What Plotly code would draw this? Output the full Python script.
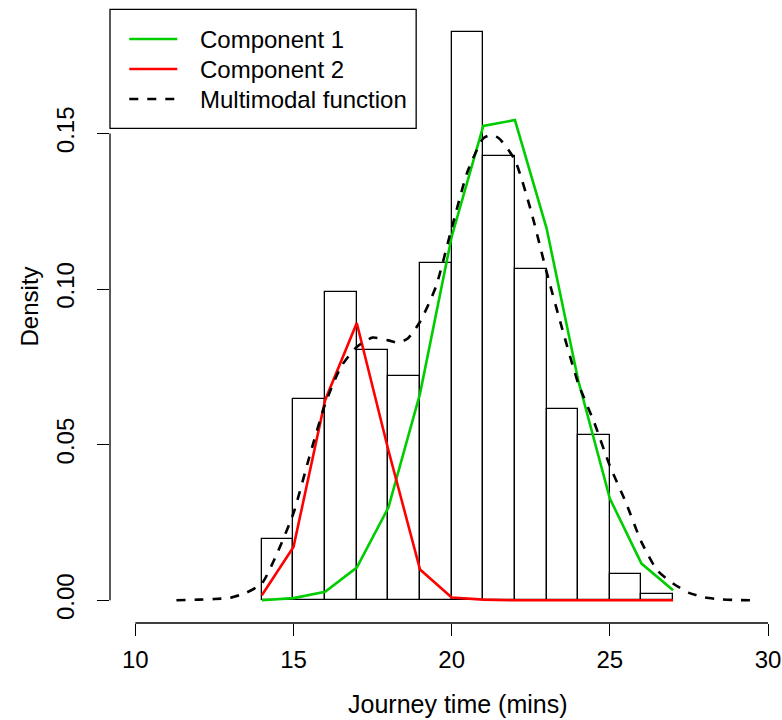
import plotly.graph_objects as go

# ---------------- data ----------------
bin_left = [14, 15, 16, 17, 18, 19, 20, 21, 22, 23, 24, 25, 26]
bin_density = [0.0198, 0.0646, 0.0990, 0.0804, 0.0720, 0.1084, 0.1827,
               0.1428, 0.1064, 0.0616, 0.0531, 0.0083, 0.0020]

comp_x = [14, 15, 16, 17, 18, 19, 20, 21, 22, 23, 24, 25, 26, 27]
comp1_y = [0.0000, 0.0007, 0.0027, 0.0105, 0.0298, 0.0664, 0.1168,
           0.1524, 0.1543, 0.1195, 0.0707, 0.0327, 0.0118, 0.0032]
comp2_y = [0.0016, 0.0171, 0.0643, 0.0891, 0.0482, 0.0099, 0.0009,
           0.0002, 0.0000, 0.0000, 0.0000, 0.0000, 0.0000, 0.0000]

mix_x = [11.3, 12.0, 12.5, 13.0, 13.5, 14.0, 14.5, 15.0, 15.5, 16.0, 16.5,
         17.0, 17.5, 18.0, 18.3, 18.6, 19.0, 19.5, 20.0, 20.5, 21.0, 21.25,
         21.5, 22.0, 22.5, 23.0, 23.5, 24.0, 24.5, 25.0, 25.5, 26.0, 26.5,
         27.0, 27.5, 28.0, 28.5, 29.0, 29.5]
mix_y = [0.0000, 0.0002, 0.0004, 0.0008, 0.0024, 0.0054, 0.0155, 0.0280,
         0.0460, 0.0630, 0.0750, 0.0814, 0.0844, 0.0835, 0.0828, 0.0840,
         0.0895, 0.1007, 0.1195, 0.1377, 0.1484, 0.1495, 0.1484, 0.1414,
         0.1254, 0.1055, 0.0870, 0.0697, 0.0573, 0.0432, 0.0316, 0.0187,
         0.0096, 0.0054, 0.0024, 0.0009, 0.0003, 0.0001, 0.0000]

x_ticks = [10, 15, 20, 25, 30]
y_ticks = [0.00, 0.05, 0.10, 0.15]
y_tick_text = ["0.00", "0.05", "0.10", "0.15"]
legend_labels = ["Component 1", "Component 2", "Multimodal function"]

# ---------------- style ----------------
W, H = 782, 720
ML, MT, MB = 109.7, 9.0, 97.3
PX_PER_X = 31.65
PX_PER_Y = 3111.0
X0 = 9.2
Y0 = -22.7 / PX_PER_Y
plot_w = W - ML
plot_h = H - MT - MB
x_range = [X0, X0 + plot_w / PX_PER_X]
y_range = [Y0, Y0 + plot_h / PX_PER_Y]

GREEN = "#00CD00"
RED = "#FF0000"
FONT = "Liberation Sans"
FS = 24


def px_to_paper_x(px):
    return (px - ML) / plot_w


def py_to_paper_y(py):
    return (H - MB - py) / plot_h


fig = go.Figure()

fig.add_trace(go.Bar(
    x=[b + 0.5 for b in bin_left], y=bin_density, width=1,
    marker=dict(color="white", line=dict(color="black", width=1.3)),
    showlegend=False, hoverinfo="skip"))

fig.add_trace(go.Scatter(x=comp_x, y=comp1_y, mode="lines",
                         line=dict(color=GREEN, width=2.6), showlegend=False))
fig.add_trace(go.Scatter(x=comp_x, y=comp2_y, mode="lines",
                         line=dict(color=RED, width=2.6), showlegend=False))
fig.add_trace(go.Scatter(x=mix_x, y=mix_y, mode="lines",
                         line=dict(color="black", width=2.6, dash="9px,9px",
                                   shape="spline", smoothing=0.6),
                         showlegend=False))

shapes = []
# R-style detached axes
shapes.append(dict(type="line", xref="x", yref="paper", x0=x_ticks[0], x1=x_ticks[-1],
                   y0=0, y1=0, line=dict(color="black", width=1.3)))
shapes.append(dict(type="line", xref="paper", yref="y", x0=0, x1=0,
                   y0=y_ticks[0], y1=y_ticks[-1], line=dict(color="black", width=1.3)))

# legend box
shapes.append(dict(type="rect", xref="paper", yref="paper",
                   x0=px_to_paper_x(109.7), x1=px_to_paper_x(416),
                   y0=py_to_paper_y(128.3), y1=py_to_paper_y(9.3),
                   line=dict(color="black", width=1.3), fillcolor="white", layer="above"))
leg_y = [39.0, 69.0, 99.0]
leg_col = [GREEN, RED, "black"]
leg_dash = ["solid", "solid", "9px,9px"]
annotations = []
for lab, yy, col, dsh in zip(legend_labels, leg_y, leg_col, leg_dash):
    shapes.append(dict(type="line", xref="paper", yref="paper",
                       x0=px_to_paper_x(129), x1=px_to_paper_x(177),
                       y0=py_to_paper_y(yy), y1=py_to_paper_y(yy),
                       line=dict(color=col, width=2.6, dash=dsh), layer="above"))
    annotations.append(dict(xref="paper", yref="paper", x=px_to_paper_x(198),
                            y=py_to_paper_y(yy), text=lab, showarrow=False,
                            xanchor="left", yanchor="middle",
                            font=dict(family=FONT, size=FS, color="black")))

annotations.append(dict(xref="paper", yref="paper", x=px_to_paper_x(458),
                        y=py_to_paper_y(704), text="Journey time (mins)", showarrow=False,
                        xanchor="center", yanchor="middle",
                        font=dict(family=FONT, size=FS + 1, color="black")))
annotations.append(dict(xref="paper", yref="paper", x=px_to_paper_x(29),
                        y=py_to_paper_y(306), text="Density", showarrow=False,
                        textangle=-90, xanchor="center", yanchor="middle",
                        font=dict(family=FONT, size=FS, color="black")))

fig.update_layout(
    width=W, height=H,
    margin=dict(l=ML, r=0, t=MT, b=MB, pad=0),
    paper_bgcolor="white", plot_bgcolor="white",
    bargap=0, shapes=shapes, annotations=annotations,
    font=dict(family=FONT, size=FS, color="black"),
    xaxis=dict(range=x_range, tickvals=x_ticks, ticktext=[str(v) for v in x_ticks],
               ticks="outside", ticklen=12, tickwidth=1.3, tickcolor="black",
               showgrid=False, zeroline=False, showline=False,
               ticklabelstandoff=3),
    yaxis=dict(range=y_range, tickvals=y_ticks, ticktext=y_tick_text,
               ticks="outside", ticklen=12, tickwidth=1.3, tickcolor="black",
               tickangle=-90, showgrid=False, zeroline=False, showline=False,
               ticklabelstandoff=13),
)

fig.write_html("out.html")
